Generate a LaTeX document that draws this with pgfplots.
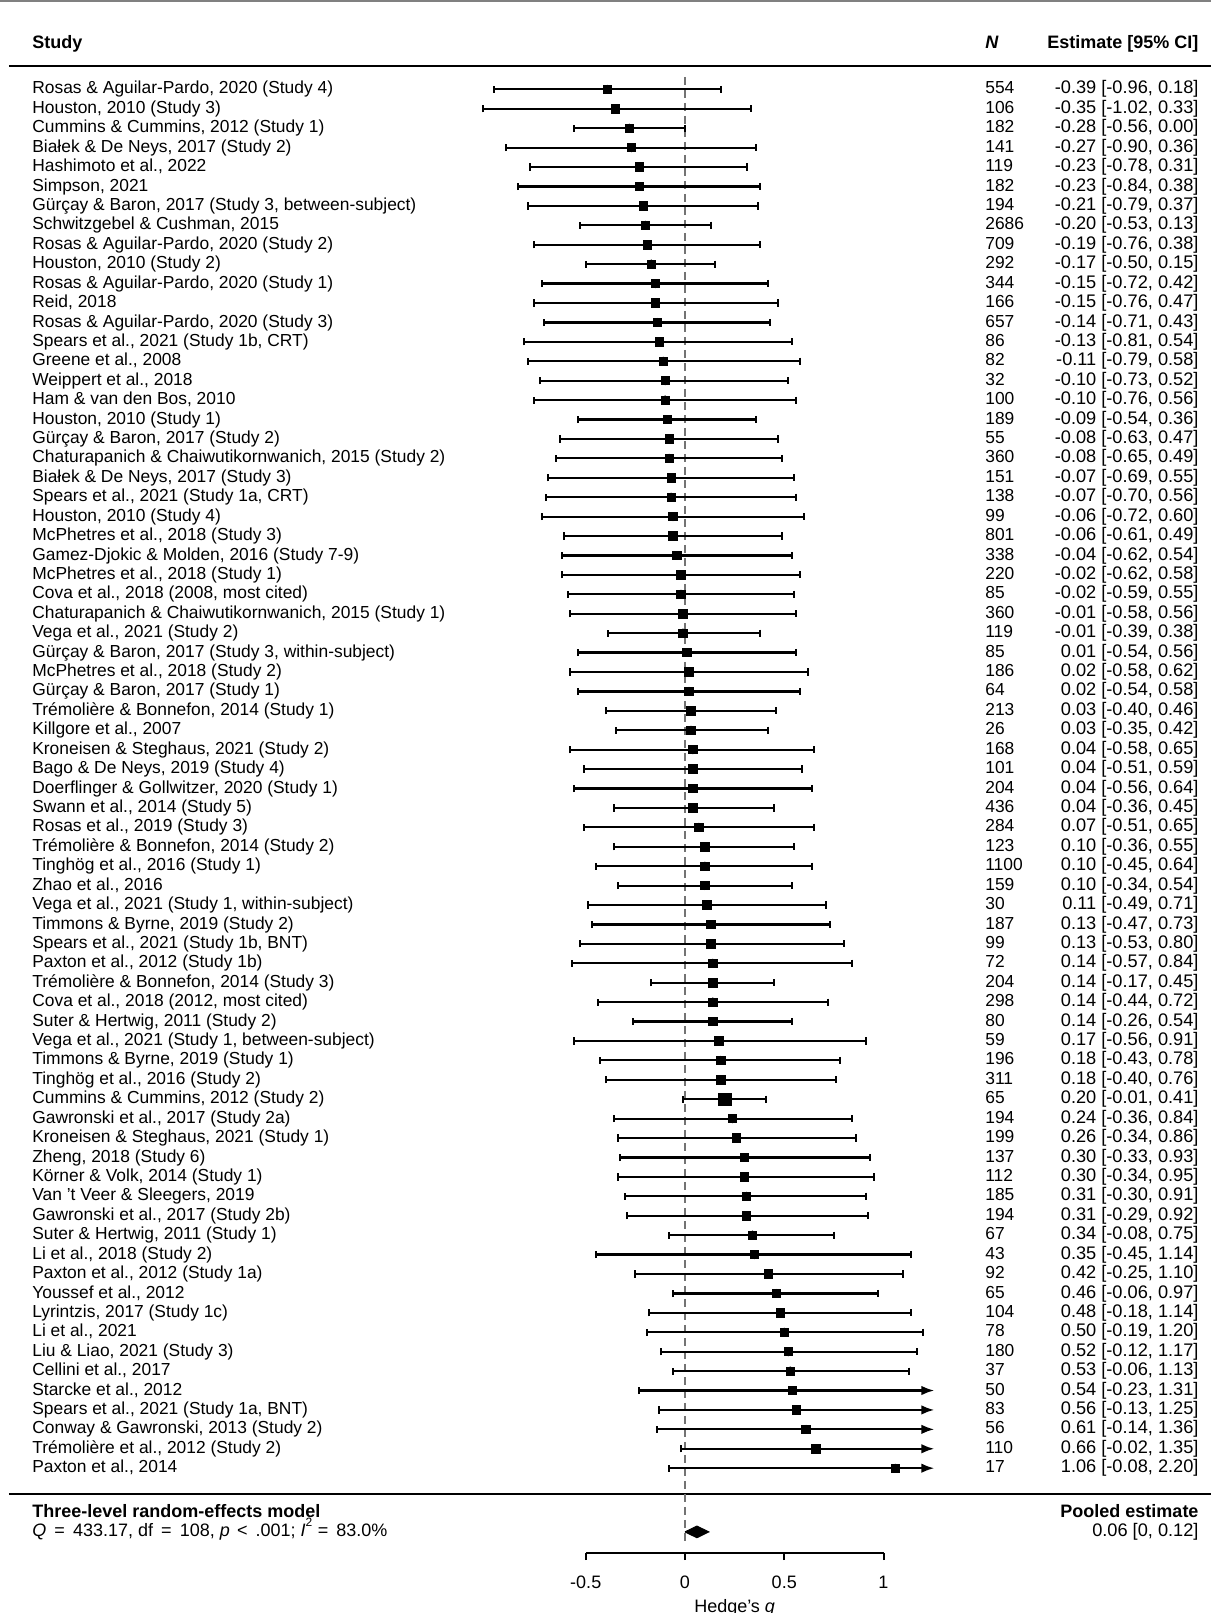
\documentclass[border=0pt]{standalone}
\usepackage{fontspec}
\setmainfont{Liberation Sans}
\usepackage{pgfplots}
\usepackage{pgfplotstable}
\pgfplotsset{compat=1.18}
\usetikzlibrary{arrows.meta}

\pgfplotstableread[col sep=semicolon]{
row;name;n;est;lb;ub;sz
1;Rosas \& Aguilar-Pardo, 2020 (Study 4);554;-0.39;-0.96;0.18;2
2;Houston, 2010 (Study 3);106;-0.35;-1.02;0.33;2
3;Cummins \& Cummins, 2012 (Study 1);182;-0.28;-0.56;0.00;2
4;Białek \& De Neys, 2017 (Study 2);141;-0.27;-0.90;0.36;2
5;Hashimoto et al., 2022;119;-0.23;-0.78;0.31;2
6;Simpson, 2021;182;-0.23;-0.84;0.38;2
7;Gürçay \& Baron, 2017 (Study 3, between-subject);194;-0.21;-0.79;0.37;2
8;Schwitzgebel \& Cushman, 2015;2686;-0.20;-0.53;0.13;2
9;Rosas \& Aguilar-Pardo, 2020 (Study 2);709;-0.19;-0.76;0.38;2
10;Houston, 2010 (Study 2);292;-0.17;-0.50;0.15;2
11;Rosas \& Aguilar-Pardo, 2020 (Study 1);344;-0.15;-0.72;0.42;2
12;Reid, 2018;166;-0.15;-0.76;0.47;2
13;Rosas \& Aguilar-Pardo, 2020 (Study 3);657;-0.14;-0.71;0.43;2
14;Spears et al., 2021 (Study 1b, CRT);86;-0.13;-0.81;0.54;2
15;Greene et al., 2008;82;-0.11;-0.79;0.58;2
16;Weippert et al., 2018;32;-0.10;-0.73;0.52;2
17;Ham \& van den Bos, 2010;100;-0.10;-0.76;0.56;2
18;Houston, 2010 (Study 1);189;-0.09;-0.54;0.36;2
19;Gürçay \& Baron, 2017 (Study 2);55;-0.08;-0.63;0.47;2
20;Chaturapanich \& Chaiwutikornwanich, 2015 (Study 2);360;-0.08;-0.65;0.49;2
21;Białek \& De Neys, 2017 (Study 3);151;-0.07;-0.69;0.55;2
22;Spears et al., 2021 (Study 1a, CRT);138;-0.07;-0.70;0.56;2
23;Houston, 2010 (Study 4);99;-0.06;-0.72;0.60;2
24;McPhetres et al., 2018 (Study 3);801;-0.06;-0.61;0.49;2
25;Gamez-Djokic \& Molden, 2016 (Study 7-9);338;-0.04;-0.62;0.54;2
26;McPhetres et al., 2018 (Study 1);220;-0.02;-0.62;0.58;2
27;Cova et al., 2018 (2008, most cited);85;-0.02;-0.59;0.55;2
28;Chaturapanich \& Chaiwutikornwanich, 2015 (Study 1);360;-0.01;-0.58;0.56;2
29;Vega et al., 2021 (Study 2);119;-0.01;-0.39;0.38;2
30;Gürçay \& Baron, 2017 (Study 3, within-subject);85;0.01;-0.54;0.56;2
31;McPhetres et al., 2018 (Study 2);186;0.02;-0.58;0.62;2
32;Gürçay \& Baron, 2017 (Study 1);64;0.02;-0.54;0.58;2
33;Trémolière \& Bonnefon, 2014 (Study 1);213;0.03;-0.40;0.46;2
34;Killgore et al., 2007;26;0.03;-0.35;0.42;2
35;Kroneisen \& Steghaus, 2021 (Study 2);168;0.04;-0.58;0.65;2
36;Bago \& De Neys, 2019 (Study 4);101;0.04;-0.51;0.59;2
37;Doerflinger \& Gollwitzer, 2020 (Study 1);204;0.04;-0.56;0.64;2
38;Swann et al., 2014 (Study 5);436;0.04;-0.36;0.45;2
39;Rosas et al., 2019 (Study 3);284;0.07;-0.51;0.65;2
40;Trémolière \& Bonnefon, 2014 (Study 2);123;0.10;-0.36;0.55;2
41;Tinghög et al., 2016 (Study 1);1100;0.10;-0.45;0.64;2
42;Zhao et al., 2016;159;0.10;-0.34;0.54;2
43;Vega et al., 2021 (Study 1, within-subject);30;0.11;-0.49;0.71;2
44;Timmons \& Byrne, 2019 (Study 2);187;0.13;-0.47;0.73;2
45;Spears et al., 2021 (Study 1b, BNT);99;0.13;-0.53;0.80;2
46;Paxton et al., 2012 (Study 1b);72;0.14;-0.57;0.84;2
47;Trémolière \& Bonnefon, 2014 (Study 3);204;0.14;-0.17;0.45;2
48;Cova et al., 2018 (2012, most cited);298;0.14;-0.44;0.72;2
49;Suter \& Hertwig, 2011 (Study 2);80;0.14;-0.26;0.54;2
50;Vega et al., 2021 (Study 1, between-subject);59;0.17;-0.56;0.91;2
51;Timmons \& Byrne, 2019 (Study 1);196;0.18;-0.43;0.78;2
52;Tinghög et al., 2016 (Study 2);311;0.18;-0.40;0.76;2
53;Cummins \& Cummins, 2012 (Study 2);65;0.20;-0.01;0.41;3
54;Gawronski et al., 2017 (Study 2a);194;0.24;-0.36;0.84;2
55;Kroneisen \& Steghaus, 2021 (Study 1);199;0.26;-0.34;0.86;2
56;Zheng, 2018 (Study 6);137;0.30;-0.33;0.93;2
57;Körner \& Volk, 2014 (Study 1);112;0.30;-0.34;0.95;2
58;Van 't Veer \& Sleegers, 2019;185;0.31;-0.30;0.91;2
59;Gawronski et al., 2017 (Study 2b);194;0.31;-0.29;0.92;2
60;Suter \& Hertwig, 2011 (Study 1);67;0.34;-0.08;0.75;2
61;Li et al., 2018 (Study 2);43;0.35;-0.45;1.14;2
62;Paxton et al., 2012 (Study 1a);92;0.42;-0.25;1.10;2
63;Youssef et al., 2012;65;0.46;-0.06;0.97;2
64;Lyrintzis, 2017 (Study 1c);104;0.48;-0.18;1.14;2
65;Li et al., 2021;78;0.50;-0.19;1.20;2
66;Liu \& Liao, 2021 (Study 3);180;0.52;-0.12;1.17;2
67;Cellini et al., 2017;37;0.53;-0.06;1.13;2
68;Starcke et al., 2012;50;0.54;-0.23;1.31;2
69;Spears et al., 2021 (Study 1a, BNT);83;0.56;-0.13;1.25;2
70;Conway \& Gawronski, 2013 (Study 2);56;0.61;-0.14;1.36;2
71;Trémolière et al., 2012 (Study 2);110;0.66;-0.02;1.35;2
72;Paxton et al., 2014;17;1.06;-0.08;2.20;2
}\studies
\pgfplotstablecreatecol[
  create col/assign/.code={%
    \getthisrow{est}\cEst
    \getthisrow{lb}\cLb
    \getthisrow{ub}\cUb
    \edef\entry{\cEst\space[\cLb, \cUb]}%
    \pgfkeyslet{/pgfplots/table/create col/next content}\entry}
]{ci}\studies

\begin{document}
\fontsize{8.7pt}{10.5pt}\selectfont
\begin{tikzpicture}
\begin{axis}[
  at={(0pt,0pt)}, anchor=south west,
  scale only axis, width=605.5pt, height=806.5pt,
  xmin=-3.4509, xmax=2.6499, ymin=-3.603, ymax=79.457, y dir=reverse,
  hide axis, clip=false,
]
% frame lines
\addplot[gray, line width=1.5pt] coordinates {(-3.46,-3.552) (2.66,-3.552)};
\addplot[black, line width=1.3pt] coordinates {(-3.406,-0.205) (2.66,-0.205)};
\addplot[black, line width=1.3pt] coordinates {(-3.406,73.33) (2.66,73.33)};
% zero reference line
\addplot[black!55, line width=0.6pt, dash pattern=on 4pt off 2.5pt] coordinates {(0,0.35) (0,75.9)};
% lower CI halves (with caps)
\addplot[only marks, mark=none,
  error bars/.cd, x dir=minus, x explicit, error mark=|,
  error bar style={draw=black, line width=1.1pt},
  error mark options={draw=black, mark size=1.8pt, line width=1.0pt}]
  table[x=est, y=row, x error minus expr=\thisrow{est}-\thisrow{lb}] {\studies};
% upper CI halves within range (with caps)
\addplot[only marks, mark=none, restrict expr to domain={\thisrow{ub}}{-10:1.245},
  error bars/.cd, x dir=plus, x explicit, error mark=|,
  error bar style={draw=black, line width=1.1pt},
  error mark options={draw=black, mark size=1.8pt, line width=1.0pt}]
  table[x=est, y=row, x error plus expr=\thisrow{ub}-\thisrow{est}] {\studies};
% upper CI halves truncated (arrows)
\addplot[black, line width=1.1pt, restrict expr to domain={\thisrow{ub}}{1.245:10},
  quiver={u={1.256-\thisrow{est}}, v=0}, -{Latex[length=6.5pt,width=4.8pt]}]
  table[x=est, y=row] {\studies};
% point estimates
\addplot[only marks, mark=square*, mark size=2.1pt, black,
  restrict expr to domain={\thisrow{sz}}{0:2.5}] table[x=est, y=row] {\studies};
\addplot[only marks, mark=square*, mark size=3.1pt, black,
  restrict expr to domain={\thisrow{sz}}{2.5:10}] table[x=est, y=row] {\studies};
% pooled diamond
\addplot[fill=black, draw=black, line width=0.5pt] coordinates {(0,75.28) (0.06,74.98) (0.12,75.28) (0.06,75.58) (0,75.28)};
% text columns
\addplot[draw=none, mark=none, nodes near coords, point meta=explicit symbolic,
  every node near coord/.style={anchor=mid west, inner sep=0pt}]
  table[x expr=-3.290, y=row, meta=name] {\studies};
\addplot[draw=none, mark=none, nodes near coords, point meta=explicit symbolic,
  every node near coord/.style={anchor=mid west, inner sep=0pt}]
  table[x expr=1.511, y=row, meta=n] {\studies};
\addplot[draw=none, mark=none, nodes near coords, point meta=explicit symbolic,
  every node near coord/.style={anchor=mid east, inner sep=0pt, font=\fontsize{9.1pt}{11pt}\selectfont}]
  table[x expr=2.589, y=row, meta=ci] {\studies};
% headers
\node[anchor=mid west, inner sep=0pt, font=\fontsize{9pt}{11pt}\selectfont\bfseries] at (axis cs:-3.290,-1.338) {Study};
\node[anchor=mid west, inner sep=0pt, font=\fontsize{9pt}{11pt}\selectfont\bfseries\itshape] at (axis cs:1.511,-1.338) {N};
\node[anchor=mid east, inner sep=0pt, font=\fontsize{9pt}{11pt}\selectfont\bfseries] at (axis cs:2.589,-1.338) {Estimate [95\% CI]};
% summary
\node[anchor=mid west, inner sep=0pt, font=\fontsize{9pt}{11pt}\selectfont\bfseries] at (axis cs:-3.290,74.28) {Three-level random-effects model};
\node[anchor=mid west, inner sep=0pt, font=\fontsize{9pt}{11pt}\selectfont] at (axis cs:-3.290,75.28) {\textit{Q}\hspace{0.45em}=\hspace{0.45em}433.17, df\hspace{0.45em}=\hspace{0.45em}108, \textit{p}\hspace{0.4em}<\hspace{0.45em}.001; \textit{I}\raisebox{1.1ex}{\fontsize{6pt}{7pt}\selectfont 2}\hspace{0.3em}=\hspace{0.45em}83.0\%};
\node[anchor=mid east, inner sep=0pt, font=\fontsize{9pt}{11pt}\selectfont\bfseries] at (axis cs:2.589,74.28) {Pooled estimate};
\node[anchor=mid east, inner sep=0pt, font=\fontsize{9.1pt}{11pt}\selectfont] at (axis cs:2.589,75.28) {0.06 [0, 0.12]};
\end{axis}
\begin{axis}[
  at={(292.875pt,30pt)}, anchor=south west,
  scale only axis, width=148.875pt, height=10pt,
  xmin=-0.5, xmax=1, ymin=0, ymax=1,
  axis x line=bottom, axis y line=none,
  x axis line style={-, line width=1pt, black},
  xtick={-0.5,0,0.5,1}, xticklabels={-0.5,0,0.5,1},
  tick align=outside, major tick length=3.5pt,
  tick style={line width=1pt, black},
  xticklabel style={anchor=center, yshift=-11pt, font=\fontsize{9pt}{11pt}\selectfont},
  xlabel={Hedge's \textit{g}},
  xlabel style={at={(axis description cs:0.5,0)}, anchor=center, yshift=-27.5pt, font=\fontsize{9pt}{11pt}\selectfont},
]
\end{axis}
\pgfresetboundingbox
\path (0pt,0pt) rectangle (605.5pt,806.5pt);
\end{tikzpicture}
\end{document}
